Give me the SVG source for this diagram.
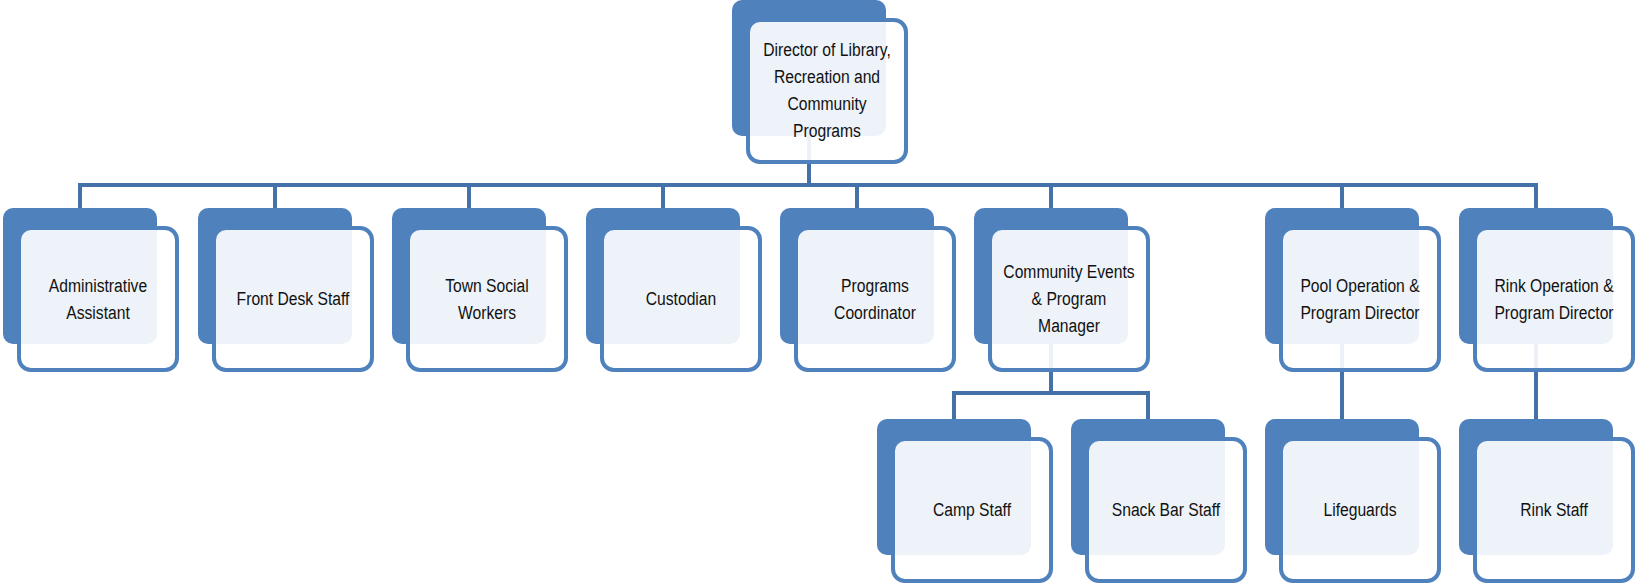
<svg xmlns="http://www.w3.org/2000/svg" width="1639" height="587" viewBox="0 0 1639 587">
<style>
.bg{fill:#ffffff}
.back{fill:#4F81BD}
.front{fill:#ffffff;fill-opacity:0.9;stroke:#4F81BD;stroke-width:4}
.t{font-family:"Liberation Sans",Arial,sans-serif;font-size:18px;fill:#111111;text-anchor:middle}
.c{fill:none;stroke:#4472A8;stroke-width:4;stroke-linejoin:miter;stroke-linecap:butt}
</style>
<rect class="bg" x="0" y="0" width="1639" height="587"/>
<g id="connectors">
<path class="c" d="M809,136 V185 M80,208 V185 H1536 V208 M275,185 V208 M469,185 V208 M663,185 V208 M857,185 V208 M1051,185 V208 M1342,185 V208"/>
<path class="c" d="M1051,344 V393 M954,419 V393 H1148 V419"/>
<path class="c" d="M1342,344 V419"/>
<path class="c" d="M1536,344 V419"/>
</g>
<g id="n-director" transform="translate(732,0)">
<rect class="back" x="0" y="0" width="154" height="136" rx="10"/>
<rect class="front" x="16" y="20" width="158" height="142" rx="12"/>
<text class="t" transform="translate(95,0) scale(0.87,1)"><tspan x="0" y="56">Director of Library,</tspan><tspan x="0" y="83">Recreation and</tspan><tspan x="0" y="110">Community</tspan><tspan x="0" y="137">Programs</tspan></text>
</g>
<g id="n-admin" transform="translate(3,208)">
<rect class="back" x="0" y="0" width="154" height="136" rx="10"/>
<rect class="front" x="16" y="20" width="158" height="142" rx="12"/>
<text class="t" transform="translate(95,0) scale(0.87,1)"><tspan x="0" y="84">Administrative</tspan><tspan x="0" y="111">Assistant</tspan></text>
</g>
<g id="n-frontdesk" transform="translate(198,208)">
<rect class="back" x="0" y="0" width="154" height="136" rx="10"/>
<rect class="front" x="16" y="20" width="158" height="142" rx="12"/>
<text class="t" transform="translate(95,0) scale(0.87,1)"><tspan x="0" y="97">Front Desk Staff</tspan></text>
</g>
<g id="n-social" transform="translate(392,208)">
<rect class="back" x="0" y="0" width="154" height="136" rx="10"/>
<rect class="front" x="16" y="20" width="158" height="142" rx="12"/>
<text class="t" transform="translate(95,0) scale(0.87,1)"><tspan x="0" y="84">Town Social</tspan><tspan x="0" y="111">Workers</tspan></text>
</g>
<g id="n-custodian" transform="translate(586,208)">
<rect class="back" x="0" y="0" width="154" height="136" rx="10"/>
<rect class="front" x="16" y="20" width="158" height="142" rx="12"/>
<text class="t" transform="translate(95,0) scale(0.87,1)"><tspan x="0" y="97">Custodian</tspan></text>
</g>
<g id="n-programs" transform="translate(780,208)">
<rect class="back" x="0" y="0" width="154" height="136" rx="10"/>
<rect class="front" x="16" y="20" width="158" height="142" rx="12"/>
<text class="t" transform="translate(95,0) scale(0.87,1)"><tspan x="0" y="84">Programs</tspan><tspan x="0" y="111">Coordinator</tspan></text>
</g>
<g id="n-events" transform="translate(974,208)">
<rect class="back" x="0" y="0" width="154" height="136" rx="10"/>
<rect class="front" x="16" y="20" width="158" height="142" rx="12"/>
<text class="t" transform="translate(95,0) scale(0.87,1)"><tspan x="0" y="70">Community Events</tspan><tspan x="0" y="97">&amp; Program</tspan><tspan x="0" y="124">Manager</tspan></text>
</g>
<g id="n-pool" transform="translate(1265,208)">
<rect class="back" x="0" y="0" width="154" height="136" rx="10"/>
<rect class="front" x="16" y="20" width="158" height="142" rx="12"/>
<text class="t" transform="translate(95,0) scale(0.87,1)"><tspan x="0" y="84">Pool Operation &amp;</tspan><tspan x="0" y="111">Program Director</tspan></text>
</g>
<g id="n-rink" transform="translate(1459,208)">
<rect class="back" x="0" y="0" width="154" height="136" rx="10"/>
<rect class="front" x="16" y="20" width="158" height="142" rx="12"/>
<text class="t" transform="translate(95,0) scale(0.87,1)"><tspan x="0" y="84">Rink Operation &amp;</tspan><tspan x="0" y="111">Program Director</tspan></text>
</g>
<g id="n-camp" transform="translate(877,419)">
<rect class="back" x="0" y="0" width="154" height="136" rx="10"/>
<rect class="front" x="16" y="20" width="158" height="142" rx="12"/>
<text class="t" transform="translate(95,0) scale(0.87,1)"><tspan x="0" y="97">Camp Staff</tspan></text>
</g>
<g id="n-snack" transform="translate(1071,419)">
<rect class="back" x="0" y="0" width="154" height="136" rx="10"/>
<rect class="front" x="16" y="20" width="158" height="142" rx="12"/>
<text class="t" transform="translate(95,0) scale(0.87,1)"><tspan x="0" y="97">Snack Bar Staff</tspan></text>
</g>
<g id="n-lifeguards" transform="translate(1265,419)">
<rect class="back" x="0" y="0" width="154" height="136" rx="10"/>
<rect class="front" x="16" y="20" width="158" height="142" rx="12"/>
<text class="t" transform="translate(95,0) scale(0.87,1)"><tspan x="0" y="97">Lifeguards</tspan></text>
</g>
<g id="n-rinkstaff" transform="translate(1459,419)">
<rect class="back" x="0" y="0" width="154" height="136" rx="10"/>
<rect class="front" x="16" y="20" width="158" height="142" rx="12"/>
<text class="t" transform="translate(95,0) scale(0.87,1)"><tspan x="0" y="97">Rink Staff</tspan></text>
</g>
</svg>
